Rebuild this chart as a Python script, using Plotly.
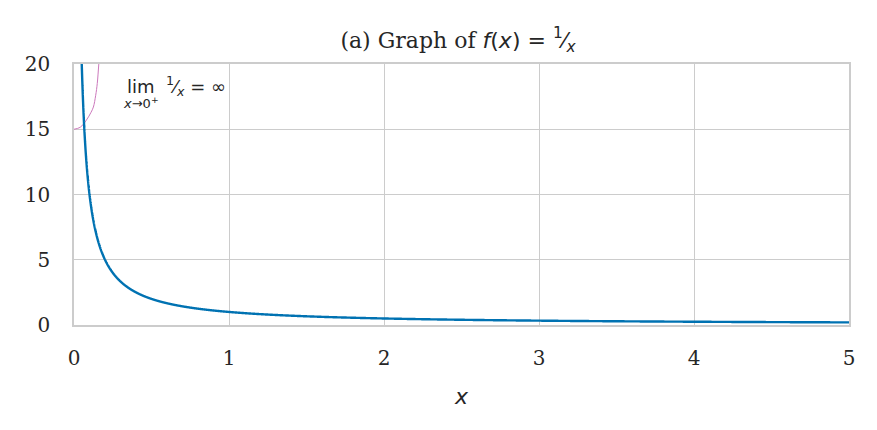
import numpy as np
import plotly.graph_objects as go

# Data
x_vals = np.geomspace(0.03, 5, 3000)
y_vals = 1 / x_vals
arc_x = [0.0, 0.04, 0.08, 0.11, 0.125, 0.14, 0.15, 0.16, 0.17]
arc_y = [15.0, 15.15, 15.7, 16.3, 16.7, 17.6, 18.5, 20.0, 21.5]
x_ticks = [0, 1, 2, 3, 4, 5]
y_ticks = [0, 5, 10, 15, 20]

TXT = "#262626"
fig = go.Figure()
fig.add_trace(go.Scatter(x=arc_x, y=arc_y, mode="lines",
                         line=dict(color="#CC78BC", width=1, shape="spline"),
                         hoverinfo="skip", showlegend=False))
fig.add_trace(go.Scatter(x=x_vals, y=y_vals, mode="lines",
                         line=dict(color="#0072B2", width=2.4, simplify=False),
                         showlegend=False))

fig.add_annotation(x=0.33, y=18.3, xref="x", yref="y", xanchor="left", yanchor="middle",
                   text="lim  <sup>1</sup>⁄<sub><i>x</i></sub> = ∞", showarrow=False,
                   font=dict(family="DejaVu Sans", size=18, color=TXT))
fig.add_annotation(x=0.3, y=17.0, xref="x", yref="y", xanchor="left", yanchor="middle",
                   text="<i>x</i>→0<sup>+</sup>", showarrow=False,
                   font=dict(family="DejaVu Sans", size=13, color=TXT))

axis_common = dict(showgrid=True, gridcolor="#cccccc", gridwidth=1,
                   showline=True, linecolor="#cccccc", linewidth=1.5, mirror=True,
                   zeroline=False, ticks="outside", tickcolor="rgba(0,0,0,0)",
                   tickfont=dict(family="DejaVu Serif", size=20, color=TXT))

fig.update_xaxes(range=[0, 5], tickvals=x_ticks, ticktext=[str(t) for t in x_ticks],
                 ticklen=14,
                 title=dict(text="<i>x</i>", font=dict(family="DejaVu Sans", size=22, color=TXT), standoff=20),
                 **axis_common)
fig.update_yaxes(range=[0, 20], tickvals=y_ticks, ticktext=[str(t) for t in y_ticks],
                 ticklen=18,
                 **axis_common)

fig.update_layout(
    width=877, height=430,
    margin=dict(l=66, r=36, t=56, b=113),
    paper_bgcolor="white", plot_bgcolor="white",
    title=dict(text="(a) Graph of <span style='font-family:DejaVu Sans'><i>f</i>(<i>x</i>) = <sup>1</sup>⁄<sub><i>x</i></sub></span>",
               x=0.5 - 4/877, xanchor="center", xref="paper", y=1 - 32/430, yref="container", yanchor="middle",
               font=dict(family="DejaVu Serif", size=22, color=TXT)),
)

fig.write_html("out.html")
